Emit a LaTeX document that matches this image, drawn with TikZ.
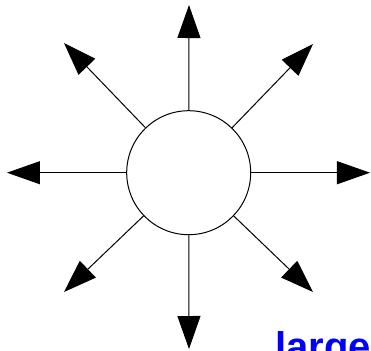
\documentclass[tikz,border=0pt]{standalone}
\usepackage{fontspec}
\newfontfamily\labelfont{Liberation Sans}
\usetikzlibrary{arrows.meta}
\definecolor{labelBlue}{RGB}{0,0,255}

\begin{document}
\begin{tikzpicture}[x=0.5pt,y=-0.5pt,
  spoke/.style={line width=0.5pt,-{Triangle[length=16.5pt,width=11.5pt]}}]
\path[use as bounding box] (0,0) rectangle (371,350);
\clip (0,0) rectangle (371,350);

% central circle
\node[circle,draw,line width=0.5pt,minimum size=62pt,inner sep=0pt] (hub) at (188.7,172.7) {};

% end points of the eight spokes
\coordinate (tipN) at (189,5);
\coordinate (tipS) at (189,349);
\coordinate (tipW) at (7,172.7);
\coordinate (tipE) at (370,172.7);
\coordinate (tipNW) at (64,43);
\coordinate (tipNE) at (313,44);
\coordinate (tipSW) at (64,292);
\coordinate (tipSE) at (313,292);

\foreach \t in {N,S,W,E,NW,NE,SW,SE}
  \draw[spoke] (hub) -- (tip\t);

% label, cut by the lower edge
\node[anchor=base west,inner sep=0pt,text=labelBlue,font=\labelfont\bfseries\fontsize{20}{24}\selectfont] (sizeLabel) at (275,360) {large};
\end{tikzpicture}
\end{document}
